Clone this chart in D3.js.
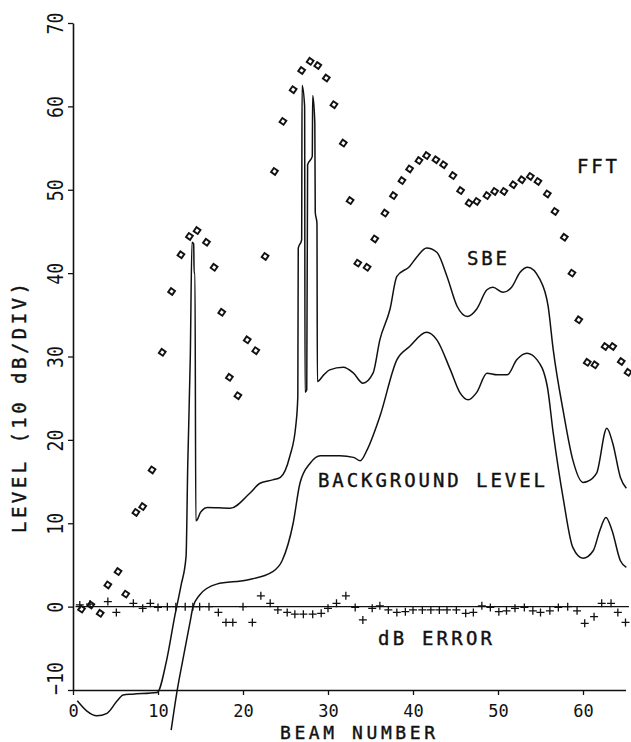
<!DOCTYPE html>
<html>
<head>
<meta charset="utf-8">
<script src="https://cdn.jsdelivr.net/npm/d3@7"></script>
<style>
  body { margin: 0; background: #fff; }
  svg { display: block; }
  .curve { fill: none; stroke: #111; stroke-width: 1.5; }
  .fft { fill: none; stroke: #111; stroke-width: 1.9; }
  .err { fill: none; stroke: #111; stroke-width: 1.3; }
  .lbl { font-family: "DejaVu Sans Mono", monospace; fill: #111; }
  .big { stroke: #111; stroke-width: 0.4; }
</style>
</head>
<body>
<div id="container"></div>
<script>
// FFT beam levels (diamonds)
var fftPoints = [[1.0,-0.3],[2.1,0.2],[3.2,-0.8],[4.1,2.6],[5.3,4.2],[6.2,1.5],[7.4,11.3],[8.2,12],
  [9.3,16.4],[10.5,30.5],[11.6,37.8],[12.7,42.2],[13.7,44.4],[14.6,45.1],[15.7,43.7],[16.6,40.7],
  [17.5,35.3],[18.4,27.5],[19.4,25.3],[20.5,32],[21.5,30.7],[22.6,42],[23.7,52.2],[24.7,58.2],
  [25.9,62],[26.9,64.3],[27.9,65.4],[28.8,64.9],[29.8,63.4],[30.7,60.2],[31.8,55.6],[32.6,48.7],
  [33.5,41.2],[34.6,40.7],[35.5,44.1],[36.7,47.2],[37.7,49.3],[38.7,51.1],[39.6,52.5],[40.7,53.5],
  [41.6,54.1],[42.7,53.6],[43.6,53],[44.7,51.7],[45.6,49.9],[46.6,48.4],[47.5,48.6],[48.7,49.3],
  [49.6,49.8],[50.7,49.8],[51.8,50.6],[52.8,51.2],[53.8,51.6],[54.7,51],[55.8,49.5],[56.7,47.4],
  [57.8,44.3],[58.7,40],[59.5,34.4],[60.5,29.3],[61.4,29],[62.6,31.2],[63.5,31.2],[64.5,29.4],[65.3,28.1]];

// SBE level (upper curve)
var sbePoints = [[0.5,-11.3],[1.6,-12.5],[2.8,-13.1],[4.0,-12.8],[5.2,-11.3],[5.9,-10.6],[7.0,-10.5],
  [9.9,-10.3],[11.0,-6.5],[12.0,-1.0],[12.7,2.5],[13.3,6],[13.5,17],[13.8,30],[14.0,43.7],[14.2,43.5],
  [14.25,40],[14.35,40],[14.45,10.3],[14.6,10.4],[15.0,11.3],[15.8,11.9],[18.5,11.8],[20.8,13.6],
  [22.0,14.8],[23.5,15.2],[24.4,15.5],[25.5,18],[26.2,21.6],[26.45,25.2],[26.5,43],[26.9,44],
  [26.95,62.5],[27.25,60],[27.3,25.7],[27.5,26],[27.6,53],[28.15,54],[28.2,61.3],[28.45,58],
  [28.5,47.3],[28.7,46],[28.75,27],[29.5,27.8],[30.2,28.4],[31.8,28.7],[33.0,28],[34.1,26.8],
  [35.3,28],[36.1,32],[37.3,35.7],[38.1,39.6],[39.6,40.8],[40.5,42],[41.6,43],[42.8,42.5],
  [44.0,39.6],[45.2,36],[46.4,34.8],[47.5,35.7],[48.7,38],[49.4,38.3],[50.6,37.7],[51.6,38.3],
  [52.6,40.1],[53.5,40.7],[54.9,39.3],[55.9,36],[56.5,30.8],[57.7,23.3],[58.8,17.6],[60.0,14.9],
  [60.5,15],[61.6,16],[62.8,21.4],[63.5,19.6],[64.4,15.5],[65.1,14.2]];

// background level (lower curve)
var bgPoints = [[11.55,-14.8],[12.2,-10.4],[12.9,-6.5],[13.8,-1.7],[14.1,-0.1],[14.9,1.4],[16.9,2.7],
  [20.5,3.2],[23.5,4.2],[24.6,5.5],[25.9,10],[26.7,14.8],[27.9,17.2],[29.1,18.1],[31.4,18.1],
  [33.0,17.9],[33.8,17.5],[34.6,18.8],[36.1,22.8],[38.1,29.6],[39.6,31.2],[41.6,32.9],[42.8,32],
  [44.4,28.4],[45.5,25.7],[46.5,24.8],[47.5,25.7],[48.7,28],[49.9,27.8],[51.1,27.8],[52.2,29.6],
  [53.4,30.4],[54.6,29.6],[55.8,26.4],[56.5,20.8],[57.7,12.8],[58.8,7.1],[60.0,5.8],[61.2,6.7],
  [62.0,9.2],[62.7,10.7],[63.4,9.2],[64.4,5.5],[65.1,4.7]];

// dB error (+ markers)
var errPoints = [[0.8,0.2],[2.0,0.3],[4.1,0.6],[5.1,-0.7],[7.1,0.4],[8.2,-0.2],[9.1,0.4],[10,-0.1],
  [11.1,0],[12.1,0],[13.2,0],[14.1,0],[14.9,0],[16,0],[17.1,-0.7],[18,-1.9],[18.8,-1.9],[20,0],
  [21.1,-1.9],[22.1,1.3],[23.2,0.4],[24.1,-0.4],[25.2,-0.7],[26.1,-0.9],[27.1,-0.9],[28.2,-0.9],
  [29.2,-0.8],[30,-0.2],[31,0.4],[32.1,1.3],[33.2,-0.1],[34.1,-1.6],[35.2,-0.2],[36.1,0.1],
  [37.1,-0.4],[38.1,-0.7],[39.1,-0.6],[40,-0.4],[41.1,-0.4],[42.1,-0.4],[43.1,-0.4],[44,-0.4],
  [45.1,-0.4],[46.2,-0.8],[47.1,-0.7],[48.1,0.1],[49.1,-0.1],[50.1,-0.6],[51,-0.5],[52,-0.2],
  [53.1,-0.1],[54.1,-0.5],[55,-0.7],[56.1,-0.5],[57.1,-0.1],[58.2,0],[59.3,-0.5],[60.2,-2],
  [61.3,-1.2],[62.2,0.4],[63.3,0.4],[64.1,-0.7],[65,-1.9]];

var xTicks = [0, 10, 20, 30, 40, 50, 60];
var yTicks = [-10, 0, 10, 20, 30, 40, 50, 60, 70];

var width = 631, height = 742;

var svg = d3.select("#container").append("svg").
  attr("width", width).
  attr("height", height);

var x = d3.scaleLinear().domain([0, 65]).range([73, 625.5]);
var y = d3.scaleLinear().domain([-10, 70]).range([690, 23]);

// axes
var xAxis = svg.append("g").
  attr("transform", "translate(0," + y(-10) + ")").
  call(d3.axisBottom(x).tickValues(xTicks).tickSizeInner(5).tickSizeOuter(0));
xAxis.select(".domain").attr("stroke", "#111").attr("stroke-width", 1.6);
xAxis.selectAll(".tick line").attr("stroke", "#111").attr("stroke-width", 1.3);
xAxis.selectAll(".tick text").
  attr("class", "lbl").
  attr("y", 27).
  attr("dy", 0).
  attr("font-size", 17).
  attr("font-family", "DejaVu Sans Mono");

var yAxis = svg.append("g").
  attr("transform", "translate(" + x(0) + ",0)").
  call(d3.axisLeft(y).tickValues(yTicks).tickSizeInner(5).tickSizeOuter(0));
yAxis.select(".domain").attr("stroke", "#111").attr("stroke-width", 1.6);
yAxis.selectAll(".tick line").attr("stroke", "#111").attr("stroke-width", 1.3);
yAxis.selectAll(".tick text").
  attr("class", "lbl").
  attr("transform", "rotate(-90)").
  attr("x", function (d) {return d < 0 ? 12 : 0;}).
  attr("y", -10).
  attr("dy", 0).
  attr("text-anchor", "middle").
  attr("font-size", 22).
  attr("font-family", "DejaVu Sans Mono").
  attr("textLength", function (d) {return String(d).length * 11;}).
  attr("lengthAdjust", "spacingAndGlyphs");

// axis titles
svg.append("text").
  attr("class", "lbl big").
  attr("x", 280).
  attr("y", 739).
  attr("font-size", 18).
  attr("textLength", 155).
  text("BEAM NUMBER");

svg.append("text").
  attr("class", "lbl big").
  attr("transform", "translate(26,408) rotate(-90)").
  attr("text-anchor", "middle").
  attr("font-size", 19).
  attr("textLength", 250).
  text("LEVEL (10 dB/DIV)");

// zero line for the error
svg.append("line").
  attr("x1", x(0.3)).
  attr("x2", x(65.4)).
  attr("y1", y(0)).
  attr("y2", y(0)).
  attr("stroke", "#111").
  attr("stroke-width", 1.4);

var line = d3.line().
  x(function (d) {return x(d[0]);}).
  y(function (d) {return y(d[1]);}).
  curve(d3.curveMonotoneX);

svg.append("path").datum(sbePoints).attr("class", "curve").attr("d", line);
svg.append("path").datum(bgPoints).attr("class", "curve").attr("d", line);

// FFT diamonds
var diamond = d3.symbol().type(d3.symbolSquare).size(24);
svg.selectAll(".fft").
  data(fftPoints).
  enter().
  append("path").
  attr("class", "fft").
  attr("d", diamond).
  attr("transform", function (d) {return "translate(" + x(d[0]) + "," + y(d[1]) + ") rotate(35)";});

// dB error crosses
svg.selectAll(".err").
  data(errPoints).
  enter().
  append("path").
  attr("class", "err").
  attr("d", "M-4,0H4M0,-4V4").
  attr("transform", function (d) {return "translate(" + x(d[0]) + "," + y(d[1]) + ")";});

// curve labels
var labels = [
  {t: "FFT", x: 577, y: 173, len: 40},
  {t: "SBE", x: 467, y: 265, len: 40},
  {t: "BACKGROUND LEVEL", x: 318, y: 487, len: 227},
  {t: "dB ERROR", x: 378, y: 645, len: 114}
];
svg.selectAll(".curve-label").
  data(labels).
  enter().
  append("text").
  attr("class", "lbl big curve-label").
  attr("x", function (d) {return d.x;}).
  attr("y", function (d) {return d.y;}).
  attr("font-size", 19).
  attr("textLength", function (d) {return d.len;}).
  text(function (d) {return d.t;});
</script>
</body>
</html>
